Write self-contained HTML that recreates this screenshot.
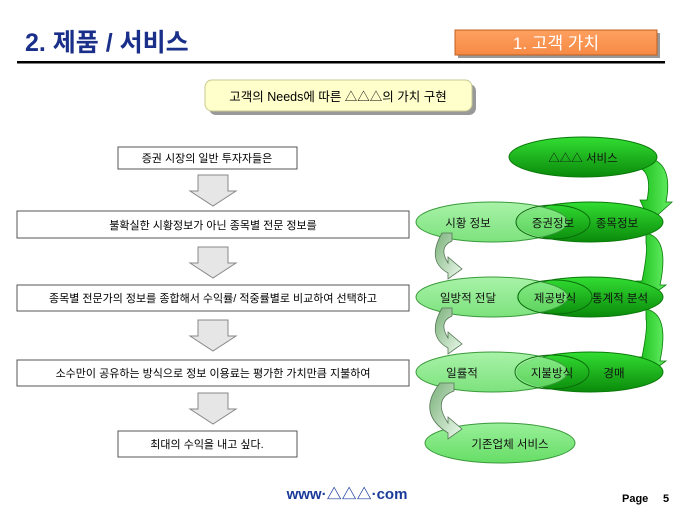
<!DOCTYPE html>
<html><head><meta charset="utf-8"><style>
body{margin:0;background:#fff;width:680px;height:510px;overflow:hidden;font-family:"Liberation Sans","Noto Sans CJK KR",sans-serif}
svg text{font-family:"Liberation Sans","Noto Sans CJK KR",sans-serif}
</style></head><body>
<svg width="680" height="510" xmlns="http://www.w3.org/2000/svg">
<defs>
<linearGradient id="og" x1="0" y1="0" x2="0" y2="1"><stop offset="0" stop-color="#ffa060"/><stop offset="1" stop-color="#f68a45"/></linearGradient>
<linearGradient id="dk" x1="0" y1="0" x2="0" y2="1"><stop offset="0" stop-color="#33dd33"/><stop offset="1" stop-color="#0a8a0a"/></linearGradient>
<linearGradient id="lt" x1="0" y1="0" x2="0" y2="1"><stop offset="0" stop-color="#99f099"/><stop offset="1" stop-color="#66dd66"/></linearGradient>
<linearGradient id="ga" x1="0" y1="0" x2="1" y2="1"><stop offset="0" stop-color="#7ab07a"/><stop offset="1" stop-color="#eefbee"/></linearGradient>
<linearGradient id="gr" x1="0" y1="0" x2="1" y2="0"><stop offset="0" stop-color="#11bb11"/><stop offset="1" stop-color="#66ee66"/></linearGradient>
<g id="barrow"><path d="M-15,0 h30 v16 h8 l-23,15 l-23,-15 h8 z" fill="#e6e6e6" stroke="#888" stroke-width="1"/></g>
</defs>
<!-- header -->
<text x="25" y="51" font-size="25" font-weight="bold" fill="#1a2f8a">2. 제품 / 서비스</text>
<rect x="458" y="33" width="202" height="25" fill="#999"/>
<rect x="455" y="30" width="202" height="25" fill="url(#og)" stroke="#c06020"/>
<text x="556" y="49" font-size="17" fill="#fff" text-anchor="middle">1. 고객 가치</text>
<rect x="17" y="61" width="648" height="2.5" fill="#000"/>
<!-- callout -->
<rect x="209" y="84" width="267" height="31" rx="7" fill="#999"/>
<rect x="205" y="80" width="267" height="31" rx="7" fill="#ffffcc" stroke="#c8c890"/>
<text x="338" y="101" font-size="12.5" text-anchor="middle">고객의 Needs에 따른 △△△의 가치 구현</text>
<!-- left boxes -->
<g font-size="11" text-anchor="middle" fill="#000">
<rect x="118" y="147" width="179" height="22" fill="#fff" stroke="#555"/>
<text x="207" y="162">증권 시장의 일반 투자자들은</text>
<rect x="17" y="211" width="392" height="27" fill="#fff" stroke="#555"/>
<text x="213" y="229">불확실한 시황정보가 아닌 종목별 전문 정보를</text>
<rect x="17" y="285" width="392" height="26" fill="#fff" stroke="#555"/>
<text x="213" y="302">종목별 전문가의 정보를 종합해서 수익률/ 적중률별로 비교하여 선택하고</text>
<rect x="17" y="360" width="392" height="26" fill="#fff" stroke="#555"/>
<text x="213" y="377">소수만이 공유하는 방식으로 정보 이용료는 평가한 가치만큼 지불하여</text>
<rect x="118" y="431" width="179" height="26" fill="#fff" stroke="#555"/>
<text x="207" y="448">최대의 수익을 내고 싶다.</text>
</g>
<use href="#barrow" x="213" y="175"/>
<use href="#barrow" x="213" y="247"/>
<use href="#barrow" x="213" y="320"/>
<use href="#barrow" x="213" y="393"/>
<!-- right diagram curved arrows (dark, right side) -->
<g fill="url(#gr)" stroke="#0a7a0a" stroke-width="0.8">
<path d="M636,157 h10 q28,5 20,45 l6,0 l-22,20 l-10,-22 l7,0 q6,-30 -11,-33 z"/>
<path d="M646,233 q24,5 14,52 l6,0 l-22,16 l-8,-20 l6,0 q6,-30 4,-38 z"/>
<path d="M646,309 q24,5 14,52 l6,0 l-22,16 l-8,-20 l6,0 q6,-30 4,-38 z"/>
</g>
<!-- rows -->
<g>
<ellipse cx="583" cy="157" rx="74" ry="20" fill="url(#dk)" stroke="#0a7a0a"/>
<ellipse cx="590" cy="222" rx="73" ry="20" fill="url(#dk)" stroke="#0a7a0a"/>
<ellipse cx="492" cy="222" rx="76" ry="20" fill="url(#lt)" fill-opacity="0.85" stroke="#3a9a3a"/>
<ellipse cx="553" cy="222" rx="37" ry="17" fill="none" stroke="#0a6a0a"/>
<ellipse cx="590" cy="297" rx="73" ry="20" fill="url(#dk)" stroke="#0a7a0a"/>
<ellipse cx="492" cy="297" rx="76" ry="20" fill="url(#lt)" fill-opacity="0.85" stroke="#3a9a3a"/>
<ellipse cx="555" cy="297" rx="37" ry="17" fill="none" stroke="#0a6a0a"/>
<ellipse cx="590" cy="372" rx="73" ry="20" fill="url(#dk)" stroke="#0a7a0a"/>
<ellipse cx="492" cy="372" rx="76" ry="20" fill="url(#lt)" fill-opacity="0.85" stroke="#3a9a3a"/>
<ellipse cx="552" cy="372" rx="37" ry="17" fill="none" stroke="#0a6a0a"/>
<ellipse cx="500" cy="443" rx="75" ry="20" fill="url(#lt)" stroke="#3a9a3a"/>
</g>
<!-- left light curved arrows -->
<g fill="url(#ga)" stroke="#557755" stroke-width="0.8">
<path d="M442,233 h10 v8 q-14,6 -4,22 l0,-6 l14,12 l-14,10 l0,-6 q-22,-12 -6,-40 z"/>
<path d="M442,308 h10 v8 q-14,6 -4,22 l0,-6 l14,12 l-14,10 l0,-6 q-22,-12 -6,-40 z"/>
<path d="M440,383 h14 v8 q-22,8 -6,32 l0,-6 l14,12 l-14,10 l0,-6 q-32,-20 -8,-50 z"/>
</g>
<g font-size="11.5" fill="#111" text-anchor="middle">
<text x="583" y="162">△△△ 서비스</text>
<text x="468" y="227">시황 정보</text>
<text x="553" y="227">증권정보</text>
<text x="617" y="227">종목정보</text>
<text x="468" y="302">일방적 전달</text>
<text x="555" y="302">제공방식</text>
<text x="620" y="302">통계적 분석</text>
<text x="462" y="377">일률적</text>
<text x="552" y="377">지불방식</text>
<text x="614" y="377">경매</text>
<text x="510" y="448">기존업체 서비스</text>
</g>
<!-- footer -->
<text x="347" y="499" font-size="15" font-weight="bold" fill="#1a3a9a" text-anchor="middle">www·△△△·com</text>
<text x="622" y="502" font-size="11" font-weight="bold" fill="#000">Page</text>
<text x="663" y="502" font-size="11" font-weight="bold" fill="#000">5</text>
</svg>
</body></html>
